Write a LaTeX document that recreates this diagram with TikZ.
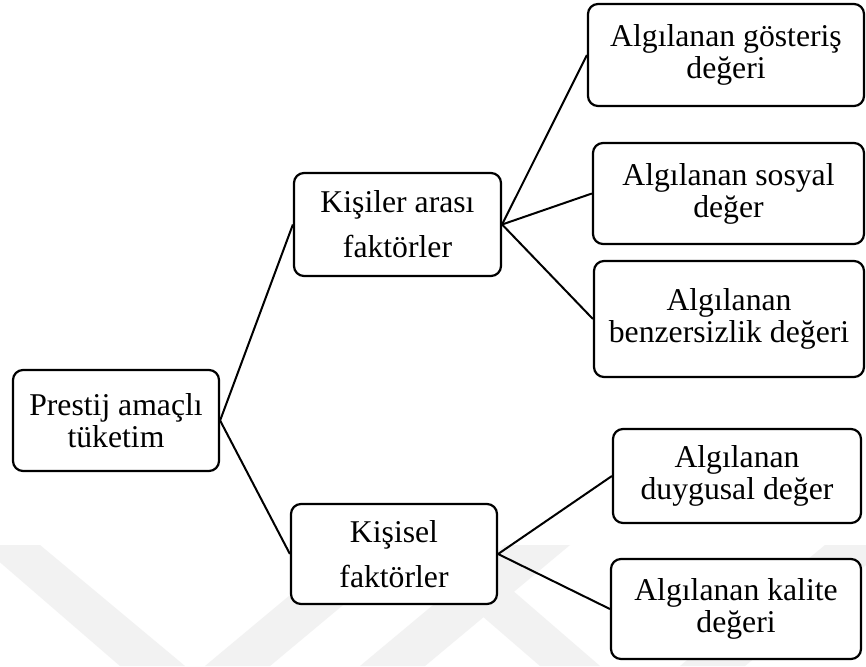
\documentclass[tikz,border=0pt]{standalone}
\usepackage{fontspec}
\setmainfont{Liberation Serif}
\begin{document}
\begin{tikzpicture}[x=1pt,y=-1pt,
  box/.style={draw=black, fill=white, line width=2.2pt, rounded corners=10pt,
    align=center, inner sep=0pt, font=\fontsize{31.7}{32}\selectfont},
  widebox/.style={box, font=\fontsize{31.7}{45}\selectfont},
  link/.style={line width=2pt}]
  \useasboundingbox (0,0) rectangle (866,666);
  \fill[white] (0,0) rectangle (866,666);

  % faint chevron bands in the lower background
  \begin{scope}
    \clip (0,545) rectangle (866,666);
    \fill[black!5] (-20,545) -- (40,545) -- (185,666) -- (120,666) -- cycle;
    \fill[black!5] (205,666) -- (270,666) -- (415,545) -- (350,545) -- cycle;
    \fill[black!5] (360,666) -- (425,666) -- (570,545) -- (505,545) -- cycle;
    \fill[black!5] (540,666) -- (600,666) -- (460,545) -- (400,545) -- cycle;
    \fill[black!5] (680,666) -- (745,666) -- (890,545) -- (825,545) -- cycle;
  \end{scope}

  % boxes
  \node[box, minimum width=206pt, minimum height=101pt] (root) at (116,420.5)
    {Prestij amaçlı\\tüketim};
  \node[widebox, minimum width=207pt, minimum height=103pt] (inter) at (397.5,224.5)
    {Kişiler arası\\faktörler};
  \node[widebox, minimum width=206pt, minimum height=100pt] (pers) at (394,554)
    {Kişisel\\faktörler};
  \node[box, minimum width=276pt, minimum height=102pt] (show) at (726,55)
    {Algılanan gösteriş\\değeri};
  \node[box, minimum width=271pt, minimum height=101pt] (social) at (728.5,193.5)
    {Algılanan sosyal\\değer};
  \node[box, minimum width=270pt, minimum height=116pt] (unique) at (729,319)
    {Algılanan\\benzersizlik değeri};
  \node[box, minimum width=248pt, minimum height=94pt] (emot) at (737,476)
    {Algılanan\\duygusal değer};
  \node[box, minimum width=250pt, minimum height=100pt] (qual) at (736,609)
    {Algılanan kalite\\değeri};

  % connectors
  \draw[link] (root.east) -- (inter.west);
  \draw[link] (root.east) -- (pers.west);
  \draw[link] (inter.east) -- (show.west);
  \draw[link] (inter.east) -- (social.west);
  \draw[link] (inter.east) -- (unique.west);
  \draw[link] (pers.east) -- (emot.west);
  \draw[link] (pers.east) -- (qual.west);
\end{tikzpicture}
\end{document}
